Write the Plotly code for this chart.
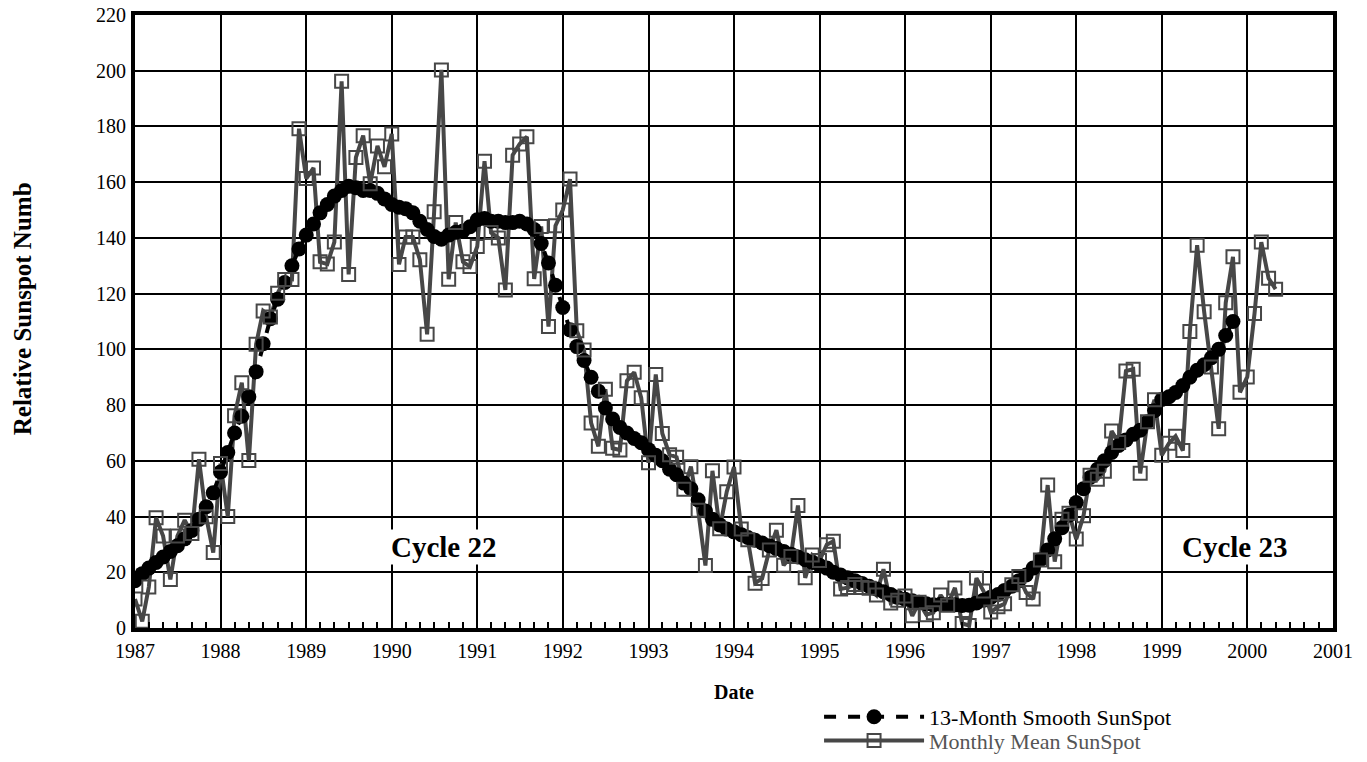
import plotly.graph_objects as go
import pandas as pd

# Monthly mean sunspot numbers, Jan 1987 .. May 2000
monthly_mean = [
    10.4, 2.4, 14.7, 39.6, 33.0, 17.4, 33.0, 38.7, 33.9, 60.6, 39.9, 27.1,          # 1987
    59.0, 40.0, 76.2, 88.0, 60.1, 101.8, 113.8, 111.6, 120.1, 125.1, 125.1, 179.2,  # 1988
    161.3, 165.1, 131.4, 130.6, 138.5, 196.2, 126.9, 168.9, 176.7, 159.4, 173.0, 165.5,  # 1989
    177.3, 130.5, 140.3, 140.3, 132.2, 105.4, 149.4, 200.3, 125.2, 145.5, 131.4, 129.7,  # 1990
    136.9, 167.5, 141.9, 140.0, 121.3, 169.7, 173.7, 176.3, 125.3, 144.1, 108.2, 144.4,  # 1991
    150.0, 161.1, 106.7, 99.8, 73.6, 65.2, 85.7, 64.5, 63.9, 88.7, 91.8, 82.6,      # 1992
    59.3, 91.0, 69.8, 62.2, 61.3, 49.8, 57.9, 42.3, 22.4, 56.4, 35.6, 48.9,         # 1993
    57.8, 35.5, 31.7, 16.1, 17.8, 28.0, 35.1, 22.5, 25.7, 44.0, 18.0, 26.2,         # 1994
    24.2, 29.9, 31.1, 14.0, 14.5, 15.6, 14.5, 14.3, 11.8, 21.1, 9.0, 10.0,          # 1995
    11.5, 4.4, 9.2, 4.8, 5.5, 11.8, 8.2, 14.4, 1.6, 0.9, 17.9, 13.3,                # 1996
    5.7, 7.6, 8.7, 15.5, 18.5, 12.7, 10.4, 24.4, 51.3, 23.8, 39.0, 41.2,            # 1997
    31.9, 40.3, 54.8, 53.4, 56.3, 70.7, 66.6, 92.2, 92.9, 55.5, 74.0, 81.9,         # 1998
    62.0, 66.3, 68.8, 63.7, 106.4, 137.4, 113.5, 93.7, 71.5, 116.7, 133.2, 84.6,    # 1999
    90.1, 112.9, 138.5, 125.5, 121.6,                                               # 2000
]

# 13-month smoothed sunspot numbers, Jan 1987 .. Nov 1999
smoothed = [
    17.0, 19.5, 21.5, 23.5, 25.5, 27.5, 29.5, 32.0, 35.0, 39.0, 43.5, 48.5,          # 1987
    56.0, 63.0, 70.0, 76.0, 83.0, 92.0, 102.0, 111.0, 118.0, 124.0, 130.0, 136.0,   # 1988
    141.0, 145.0, 149.0, 152.0, 155.0, 157.0, 158.5, 158.0, 157.0, 157.0, 156.0, 154.0,  # 1989
    152.0, 151.0, 150.5, 149.0, 146.0, 143.0, 140.5, 139.5, 141.0, 142.0, 142.5, 144.0,  # 1990
    146.5, 147.0, 146.0, 146.0, 145.5, 145.5, 146.0, 145.0, 143.0, 138.0, 131.0, 123.0,  # 1991
    115.0, 107.0, 101.0, 96.0, 90.0, 85.0, 79.0, 75.0, 72.0, 70.0, 68.0, 66.5,      # 1992
    64.0, 62.0, 60.0, 57.0, 55.0, 52.0, 50.0, 46.0, 42.0, 39.0, 37.0, 35.5,         # 1993
    34.5, 33.5, 32.5, 31.5, 30.5, 29.5, 28.5, 27.5, 26.5, 25.5, 24.5, 23.5,         # 1994
    22.5, 21.5, 20.0, 19.0, 18.0, 17.0, 16.0, 15.0, 14.0, 13.0, 12.0, 11.0,         # 1995
    10.3, 9.8, 9.2, 8.7, 8.3, 8.5, 8.4, 8.3, 8.1, 8.2, 9.0, 10.0,                   # 1996
    11.0, 12.0, 13.5, 15.0, 17.0, 19.0, 21.5, 24.5, 28.0, 32.0, 36.0, 40.5,         # 1997
    45.0, 50.0, 54.0, 57.0, 60.0, 63.0, 65.5, 67.5, 69.5, 71.0, 74.0, 78.0,         # 1998
    82.0, 83.0, 84.5, 87.0, 90.0, 92.5, 94.5, 97.0, 100.0, 105.0, 110.0,            # 1999
]

start_month = "1987-01-01"
x_start, x_end = "1987-01-01", "2001-01-01"
y_ticks = list(range(0, 221, 20))

mean_dates = pd.date_range(start_month, periods=len(monthly_mean), freq="MS")
smooth_dates = pd.date_range(start_month, periods=len(smoothed), freq="MS")

GRAY = "#474747"
FONT = "Liberation Serif, Times New Roman, serif"

fig = go.Figure()

# monthly line underneath (Excel draws lines first)
fig.add_trace(go.Scatter(
    x=mean_dates, y=monthly_mean, mode="lines",
    line=dict(color=GRAY, width=4), showlegend=False, hoverinfo="skip"))

# smoothed series
fig.add_trace(go.Scatter(
    x=smooth_dates, y=smoothed, mode="lines+markers",
    name="13-Month Smooth SunSpot", legend="legend",
    line=dict(color="black", width=4, dash="dash"),
    marker=dict(symbol="circle", size=15, color="black")))

# monthly markers on top
fig.add_trace(go.Scatter(
    x=mean_dates, y=monthly_mean, mode="markers",
    marker=dict(symbol="square-open", size=13, color=GRAY, line=dict(width=2, color=GRAY)),
    showlegend=False))

# legend entry for monthly series
fig.add_trace(go.Scatter(
    x=[None], y=[None], mode="lines+markers",
    name="Monthly Mean SunSpot", legend="legend2",
    line=dict(color=GRAY, width=4),
    marker=dict(symbol="square-open", size=13, color=GRAY, line=dict(width=2, color=GRAY))))

legend_common = dict(
    x=0.571, xanchor="left", yanchor="middle",
    bgcolor="rgba(0,0,0,0)", itemwidth=100, itemsizing="trace",
)

fig.update_layout(
    width=1367, height=762,
    margin=dict(l=135, r=34, t=15, b=134, autoexpand=False),
    paper_bgcolor="white", plot_bgcolor="white",
    font=dict(family=FONT, size=20, color="black"),
    legend=dict(**legend_common, y=-0.145,
                font=dict(family=FONT, size=22, color="black")),
    legend2=dict(**legend_common, y=-0.184,
                 font=dict(family=FONT, size=22, color="#555555")),
    annotations=[
        dict(x="1990-08-10", y=29, xref="x", yref="y", text="<b>Cycle 22</b>",
             showarrow=False, bgcolor="white", font=dict(family=FONT, size=29, color="black")),
        dict(x="1999-11-10", y=29, xref="x", yref="y", text="<b>Cycle 23</b>",
             showarrow=False, bgcolor="white", font=dict(family=FONT, size=29, color="black")),
        dict(x=-0.0943, y=0.52, xref="paper", yref="paper", xanchor="center", yanchor="middle",
             text="<b>Relative Sunspot Numb</b>",
             textangle=-90, showarrow=False, font=dict(family=FONT, size=25, color="black")),
    ],
)

fig.update_xaxes(
    type="date", range=[x_start, x_end],
    tick0=x_start, dtick="M12", tickformat="%Y",
    showgrid=True, gridcolor="black", gridwidth=2,
    showline=True, linecolor="black", linewidth=4, mirror=True,
    ticks="", ticklabelstandoff=2, ticklabeloverflow="allow",
    tickfont=dict(family=FONT, size=20),
    minor=dict(dtick="M2", ticks="inside", ticklen=6, tickwidth=2, tickcolor="black", showgrid=False),
    title=dict(text="<b>Date</b>", font=dict(family=FONT, size=20), standoff=25),
    zeroline=False,
)
fig.update_yaxes(
    range=[0, 220], tickvals=y_ticks,
    showgrid=True, gridcolor="black", gridwidth=2,
    showline=True, linecolor="black", linewidth=4, mirror=True,
    ticks="", ticklabelstandoff=1, ticklabeloverflow="allow", zeroline=False,
    tickfont=dict(family=FONT, size=20),
)

fig.write_html(
    "out.html",
    config={"displayModeBar": False},
    post_script="document.body.style.margin='0';document.body.style.padding='0';"
                "document.body.style.overflow='hidden';",
)
